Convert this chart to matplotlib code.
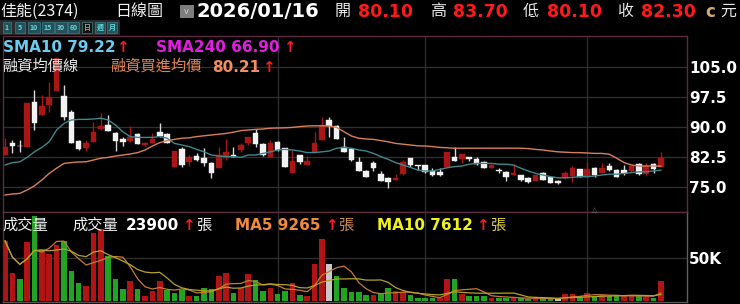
import numpy as np
import pandas as pd
import matplotlib
matplotlib.use("Agg")
import matplotlib.pyplot as plt
from matplotlib.patches import Rectangle

# daily candles, oldest first
opens = [83.0, 85.9, 85.3, 85.1, 96.3, 93.0, 95.5, 99.1, 97.75, 93.8,
         86.6, 84.7, 86.3, 89.4, 90.5, 88.4, 86.9, 86.6, 88.25, 85.5,
         86.1, 88.8, 88.25, 80.1, 84.5, 81.3, 82.8, 82.2, 80.9, 79.7,
         82.2, 83.0, 84.25, 85.9, 88.4, 85.75, 82.6, 86.2, 84.7, 78.4,
         83.0, 80.5, 83.8, 86.75, 91.75, 90.25, 85.1, 84.4, 81.3, 79.0,
         80.9, 78.2, 77.2, 76.75, 78.2, 82.2, 80.4, 80.5, 79.0, 78.8,
         79.9, 82.6, 81.9, 82.4, 82.0, 81.2, 79.8, 79.1, 78.7, 78.0,
         78.0, 77.2, 76.5, 78.6, 77.4, 76.5, 77.3, 77.75, 79.4, 77.6,
         79.7, 78.4, 80.3, 79.25, 79.25, 79.0, 80.75, 78.2, 80.75, 80.1]
highs = [87.2, 86.75, 86.75, 96.0, 99.25, 98.0, 101.3, 107.5, 100.5, 94.25,
         86.75, 86.75, 91.3, 93.4, 93.0, 88.8, 87.6, 90.25, 88.4, 86.3,
         88.4, 90.9, 88.6, 84.0, 84.9, 83.0, 83.5, 84.7, 81.3, 84.9,
         86.9, 84.9, 85.9, 87.6, 89.4, 86.1, 86.75, 86.4, 84.7, 84.25,
         83.0, 82.75, 88.8, 92.4, 92.4, 90.5, 87.6, 84.6, 82.4, 79.25,
         81.6, 79.1, 77.4, 78.2, 81.7, 82.2, 80.4, 80.5, 79.8, 79.8,
         83.8, 84.9, 83.2, 82.6, 82.6, 81.4, 80.75, 79.8, 78.9, 80.75,
         78.0, 77.4, 78.0, 78.8, 77.6, 76.75, 78.9, 80.25, 79.6, 81.2,
         80.1, 80.9, 81.0, 79.4, 80.5, 80.5, 81.0, 80.9, 81.0, 83.7]
lows = [83.0, 83.4, 83.8, 85.0, 89.25, 93.0, 93.8, 99.0, 91.75, 85.9,
        84.25, 84.0, 86.3, 89.2, 89.1, 84.1, 85.25, 86.3, 85.75, 85.25,
        86.0, 87.5, 85.9, 80.1, 80.1, 80.25, 81.6, 80.25, 77.3, 79.7,
        81.75, 82.4, 83.8, 85.5, 85.1, 82.75, 82.6, 84.1, 80.1, 78.4,
        80.75, 80.5, 83.8, 86.75, 87.6, 87.0, 83.8, 81.6, 79.0, 77.4,
        79.0, 76.4, 74.7, 76.75, 78.0, 80.0, 79.3, 78.6, 77.8, 77.8,
        79.9, 81.6, 80.9, 81.6, 80.5, 79.7, 79.8, 78.6, 76.6, 78.0,
        76.6, 76.0, 76.5, 76.75, 75.9, 75.7, 77.1, 76.3, 77.6, 77.6,
        77.6, 78.4, 79.1, 77.4, 78.0, 78.8, 78.0, 78.0, 78.6, 80.1]
closes = [85.1, 85.3, 85.2, 95.9, 91.1, 95.3, 97.6, 107.2, 92.6, 85.9,
          84.4, 86.1, 88.8, 90.25, 89.1, 86.6, 86.3, 87.6, 85.75, 86.1,
          87.1, 87.8, 86.1, 84.0, 80.5, 82.4, 81.75, 80.9, 78.6, 83.0,
          83.8, 82.6, 85.5, 87.6, 85.75, 83.0, 85.9, 84.25, 80.1, 81.6,
          81.2, 81.5, 85.9, 90.25, 90.25, 87.0, 83.8, 81.75, 79.0, 77.6,
          79.7, 76.5, 76.2, 77.3, 81.3, 80.4, 80.3, 78.8, 78.0, 78.1,
          83.7, 81.6, 83.2, 81.9, 80.75, 79.7, 80.6, 79.0, 77.6, 78.4,
          76.75, 76.2, 78.0, 76.75, 75.9, 75.9, 78.4, 79.7, 77.6, 79.4,
          78.0, 79.8, 79.25, 77.4, 78.4, 80.25, 78.2, 80.3, 79.4, 82.3]
prev_close = 84.0  # close of the day before the first candle

# volume in thousand lots
volumes = [70.3, 32.4, 25.8, 68.4, 98.8, 60.5, 54.7, 65.6, 70.3, 35.5,
           20.7, 18.0, 79.3, 84.0, 52.7, 25.8, 14.1, 23.4, 13.7, 6.3,
           12.1, 23.4, 12.9, 9.0, 12.9, 6.3, 6.3, 14.8, 14.1, 29.7,
           33.2, 9.8, 15.6, 31.3, 24.6, 11.7, 14.8, 7.8, 11.7, 21.5,
           7.0, 5.9, 43.4, 72.7, 43.4, 29.3, 14.8, 10.2, 10.2, 7.0,
           7.0, 7.8, 14.8, 11.7, 10.2, 7.0, 3.1, 3.1, 3.1, 3.1,
           25.4, 25.8, 7.8, 6.3, 6.3, 6.3, 3.9, 3.1, 3.9, 3.9,
           3.1, 2.3, 3.1, 3.1, 3.1, 2.0, 7.8, 7.8, 6.3, 9.0,
           5.8, 7.2, 5.6, 5.6, 5.6, 6.2, 6.2, 6.1, 3.9, 23.9]

sma10 = [80.5, 81.1, 81.3, 82.4, 83.8, 84.9, 86.3, 89.25, 90.9, 91.75,
         91.9, 91.9, 92.0, 92.2, 91.75, 90.5, 88.8, 87.6, 87.4, 87.4,
         87.4, 87.6, 87.2, 85.9, 85.5, 85.1, 84.4, 83.8, 83.0, 82.75,
         82.6, 82.6, 82.4, 83.0, 83.0, 83.4, 83.8, 84.25, 84.4, 84.25,
         84.0, 83.6, 83.6, 83.8, 84.0, 84.7, 84.9, 84.7, 84.25, 84.0,
         83.4, 82.6, 81.9, 81.1, 80.5, 79.9, 79.25, 79.0, 79.0, 79.4,
         79.8, 80.1, 80.25, 80.7, 80.9, 80.9, 80.9, 80.7, 80.7, 80.5,
         79.7, 79.0, 78.4, 78.0, 77.6, 77.3, 77.3, 77.4, 77.6, 77.6,
         77.75, 78.0, 78.2, 78.2, 78.4, 78.6, 78.8, 78.8, 79.0, 79.22]

margin_avg = [73.0, 73.25, 73.4, 74.25, 75.3, 76.75, 78.4, 79.7, 80.9, 81.1,
              81.25, 81.3, 81.75, 82.2, 82.4, 82.75, 83.0, 83.25, 83.6, 84.25,
              85.25, 86.1, 86.6, 86.9, 87.2, 87.3, 87.6, 87.8, 88.0, 88.2,
              88.4, 88.7, 89.1, 89.25, 89.4, 89.5, 89.7, 89.75, 89.8, 89.9,
              90.1, 90.25, 90.3, 90.3, 90.25, 89.9, 88.8, 87.75, 87.2, 87.0,
              86.9, 86.6, 86.3, 85.9, 85.7, 85.5, 85.3, 85.25, 85.1, 84.9,
              84.8, 84.7, 84.7, 84.7, 84.7, 84.7, 84.7, 84.7, 84.7, 84.7,
              84.7, 84.6, 84.4, 84.25, 84.0, 83.8, 83.7, 83.6, 83.6, 83.5,
              83.4, 83.4, 83.2, 82.2, 81.1, 80.5, 80.25, 80.25, 80.25, 80.21]

price_ticks = [75.0, 82.5, 90.0, 97.5, 105.0]
month_starts = [37, 57, 79]
buttons = ["1", "5", "10", "15", "30", "60", "日", "週", "月"]

W, H = 740, 304
RED = "#a81616"
WHITE = "#f2f2f2"
GREEN = "#22a322"
GRID = "#303030"
BORDER = "#5a2c3c"
CJK = ["Noto Sans CJK TC", "DejaVu Sans"]

fig = plt.figure(figsize=(W / 100, H / 100), dpi=100, facecolor="black")


def fx(x):
    return x / W


def fy(y):
    return 1 - y / H


def label(x, y, s, color, size, bold=True, cjk=False, ha="left"):
    fig.text(fx(x), fy(y), s, color=color, fontsize=size,
             fontweight="bold" if bold else "normal",
             family=CJK if cjk else ["DejaVu Sans"], ha=ha, va="baseline")


ax_p = fig.add_axes([fx(3), fy(212), 684 / W, 176 / H])
ax_v = fig.add_axes([fx(3), fy(302), 684 / W, 90 / H])

x = np.arange(len(closes))
o = np.array(opens)
c = np.array(closes)
up = c > o

for ax in (ax_p, ax_v):
    ax.set_facecolor("black")
    ax.set_xlim(-0.27, 92.54)
    ax.set_xticks([])
    ax.set_yticks([])
    for s in ax.spines.values():
        s.set_color(BORDER)
        s.set_linewidth(1)
    for m in month_starts:
        ax.axvline(m, color=GRID, lw=0.9, zorder=0)

ax_v.spines["bottom"].set_color("#555555")
ax_v.spines["right"].set_color("#6a5a62")

# price panel
ax_p.set_ylim(68.75, 112.75)
for t in price_ticks:
    ax_p.axhline(t, color=GRID, lw=0.9, zorder=0)

body_col = [RED if u else WHITE for u in up]
wick_col = [RED if u else "#d8d8d8" for u in up]
ax_p.vlines(x, lows, highs, colors=wick_col, lw=1, zorder=2)
heights = np.maximum(np.abs(c - o), 0.15)
ax_p.bar(x, heights, bottom=np.minimum(o, c), width=0.76, color=body_col,
         edgecolor=body_col, lw=0.3, zorder=3)

ax_p.plot(x, sma10, color="#3f8790", lw=1, zorder=4)
ax_p.plot(x, margin_avg, color="#d9805a", lw=1, zorder=4)

# volume panel
ax_v.set_ylim(-1.2, 104)
ax_v.axhline(50, color=GRID, lw=0.9, zorder=0)
prev = np.concatenate([[prev_close], c[:-1]])
vol_col = np.where(c > prev, "#b01414", np.where(c < prev, GREEN, "#c8c8c8"))
ax_v.bar(x, volumes, width=0.76, color=vol_col, zorder=2)
vol = pd.Series(volumes)
ax_v.plot(x, vol.rolling(5, min_periods=1).mean(), color="#c87a30", lw=0.9, zorder=3)
ax_v.plot(x, vol.rolling(10, min_periods=1).mean(), color="#b4a424", lw=0.9, zorder=3)

# right axis labels
for t in price_ticks:
    yy = 67 + (105.0 - t) * 4
    label(689, yy + 6, f"{t:.1f}", "white", 11)
label(689, 264, "50K", "white", 11)

# header line
label(0, 16, "佳能(2374)", "#f0f0f0", 11.5, bold=False, cjk=True)
label(115, 16, "日線圖", "#f0f0f0", 11.5, bold=False, cjk=True)
fig.add_artist(Rectangle((fx(180), fy(17)), 13 / W, 12 / H, transform=fig.transFigure,
                         facecolor="#7d7d7d", edgecolor="#9a9a9a", lw=0.5))
fig.text(fx(186.5), fy(11), "v", color="#d0d0d0", fontsize=6, ha="center", va="center")
label(197, 17, "2026/01/16", "white", 14)
label(335, 16, "開", "#e8e8e8", 11.5, bold=False, cjk=True)
label(358, 17, "80.10", "#ff1a1a", 12.5)
label(430, 16, "高", "#e8e8e8", 11.5, bold=False, cjk=True)
label(453, 17, "83.70", "#ff1a1a", 12.5)
label(523, 16, "低", "#e8e8e8", 11.5, bold=False, cjk=True)
label(547, 17, "80.10", "#ff1a1a", 12.5)
label(617, 16, "收", "#e8e8e8", 11.5, bold=False, cjk=True)
label(641, 17, "82.30", "#ff1a1a", 12.5)
label(705, 17, "c", "#d8a878", 12)
label(720, 16, "元", "#e8e8e8", 11.5, bold=False, cjk=True)

# period buttons
fig.add_artist(Rectangle((fx(0), fy(35)), 120 / W, 15 / H, transform=fig.transFigure,
                         facecolor="#2a2a2a", edgecolor="none"))
bx = [(3, 11), (15, 25), (28, 40), (42, 54), (55, 67), (68, 79), (82, 92), (95, 105), (107, 117)]
for b, (x0, x1) in zip(buttons, bx):
    sel = b == "日"
    fig.add_artist(Rectangle((fx(x0), fy(33)), (x1 - x0) / W, 11 / H, transform=fig.transFigure,
                             facecolor="#111111" if sel else "#24505a",
                             edgecolor="#3d7f8a", lw=0.5))
    fig.text(fx((x0 + x1) / 2), fy(27.5), b, color="#9a9a9a" if sel else "#5fd8d8",
             fontsize=5, fontweight="bold", family=CJK, ha="center", va="center")

# price legends
label(3, 52, "SMA10 79.22", "#6ccbf0", 11)
label(116, 52, "↑", "#ff1a1a", 11)
label(156, 52, "SMA240 66.90", "#e01ee0", 11)
label(283, 52, "↑", "#ff1a1a", 11)
label(2, 71, "融資均價線", "#e6e6e6", 11, bold=False, cjk=True)
label(110, 71, "融資買進均價", "#e0865a", 11, bold=False, cjk=True)
label(212, 72, "80.21", "#f09060", 11)
label(262, 72, "↑", "#ff1a1a", 11)

# volume legends
label(2, 230, "成交量", "#f0f0f0", 11, bold=False, cjk=True)
label(72, 230, "成交量", "#f0f0f0", 11, bold=False, cjk=True)
label(126, 230, "23900", "white", 11)
label(182, 230, "↑", "#ff1a1a", 11)
label(196, 230, "張", "#f0f0f0", 11, bold=False, cjk=True)
label(235, 230, "MA5 9265", "#f08a3c", 11)
label(325, 230, "↑", "#ff1a1a", 11)
label(338, 230, "張", "#d08a50", 11, bold=False, cjk=True)
label(377, 230, "MA10 7612", "#f0f020", 11)
label(476, 230, "↑", "#ff1a1a", 11)
label(490, 230, "張", "#e0d040", 11, bold=False, cjk=True)

fig.text(fx(595), fy(210), "△", color="#707070", fontsize=5, ha="center", va="center")

fig.savefig("out.png", dpi=100, facecolor="black")
